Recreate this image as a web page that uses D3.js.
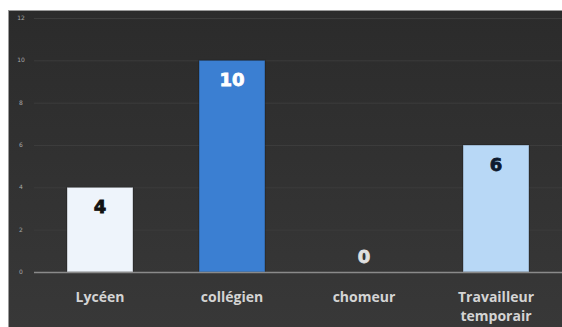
<!DOCTYPE html>
<html><head><meta charset="utf-8">
<script src="https://cdn.jsdelivr.net/npm/d3@7"></script>
<style>html,body{margin:0;padding:0;background:#fff;}svg{display:block;}</style>
</head><body>
<svg id="c" width="562" height="327"></svg>
<script>
const categories = ["Lycéen", "collégien", "chomeur", "Travailleur temporair"];
const labelLines = [["Lycéen"], ["collégien"], ["chomeur"], ["Travailleur", "temporair"]];
const values = [4, 10, 0, 6];
const yTicks = [0, 2, 4, 6, 8, 10, 12];
const barColors = ["#eef4fb", "#3b7fd2", "#b8d8f6", "#b8d8f6"];
const labelColors = ["#111111", "#ffffff", "#e0e0e0", "#0d1a2e"];

const svg = d3.select("#c");
const defs = svg.append("defs");
const bg = defs.append("linearGradient").attr("id","bg").attr("x1",0).attr("y1",0).attr("x2",0).attr("y2",1);
bg.append("stop").attr("offset","0%").attr("stop-color","#2b2b2b");
bg.append("stop").attr("offset","100%").attr("stop-color","#383838");

svg.append("rect").attr("x",8).attr("y",10).attr("width",554).attr("height",317).attr("fill","url(#bg)");
svg.append("line").attr("x1",8).attr("x2",562).attr("y1",10.5).attr("y2",10.5).attr("stroke","#9a9a9a").attr("stroke-width",1);
svg.append("line").attr("x1",8.5).attr("x2",8.5).attr("y1",10).attr("y2",327).attr("stroke","#9a9a9a").attr("stroke-width",1);

const x = d3.scaleBand().domain(categories).range([34, 562]).paddingInner(0.5).paddingOuter(0.25);
const y = d3.scaleLinear().domain([0, 12]).range([272, 18]);

// gridlines
svg.append("g").selectAll("line").data(yTicks.filter(d=>d>0)).join("line")
  .attr("x1",34).attr("x2",562).attr("y1",d=>y(d)+0.5).attr("y2",d=>y(d)+0.5)
  .attr("stroke","#3c3c3c").attr("stroke-width",1);

// y axis labels
svg.append("g").selectAll("text").data(yTicks).join("text")
  .attr("x",21).attr("y",d=>y(d)).attr("dy","0.35em").attr("text-anchor","middle")
  .attr("font-family","DejaVu Sans, sans-serif").attr("font-size",6).attr("fill","#a8a8a8")
  .text(d=>d);

// bars
svg.append("g").selectAll("rect").data(values).join("rect")
  .attr("x",(d,i)=>x(categories[i])).attr("width",x.bandwidth())
  .attr("y",d=>y(d)).attr("height",d=>y(0)-y(d))
  .attr("fill",(d,i)=>barColors[i]).attr("stroke","rgba(0,0,0,0.3)").attr("stroke-width",1);

// axis line
svg.append("line").attr("x1",34).attr("x2",562).attr("y1",272.5).attr("y2",272.5)
  .attr("stroke","#8a8a8a").attr("stroke-width",1.5);

// value labels
svg.append("g").selectAll("text").data(values).join("text")
  .attr("x",(d,i)=>x(categories[i])+x.bandwidth()/2)
  .attr("y",d=> d>0 ? y(d)+26 : y(0)-9)
  .attr("text-anchor","middle")
  .attr("font-family","DejaVu Sans, sans-serif").attr("font-weight","900").attr("font-size",18)
  .attr("fill",(d,i)=>labelColors[i])
  .attr("stroke",(d,i)=>labelColors[i]).attr("stroke-width",0.8)
  .text(d=>d);

// category labels
const cl = svg.append("g").selectAll("text").data(labelLines).join("text")
  .attr("x",(d,i)=>x(categories[i])+x.bandwidth()/2)
  .attr("y",302).attr("text-anchor","middle")
  .attr("font-family","Open Sans, sans-serif").attr("font-weight","bold").attr("font-size",14)
  .attr("fill","#d4d4d4");
cl.selectAll("tspan").data(d=>d).join("tspan")
  .attr("x",function(){return d3.select(this.parentNode).attr("x");})
  .attr("dy",(d,i)=>i===0?0:19).text(d=>d);
</script>
</body></html>
